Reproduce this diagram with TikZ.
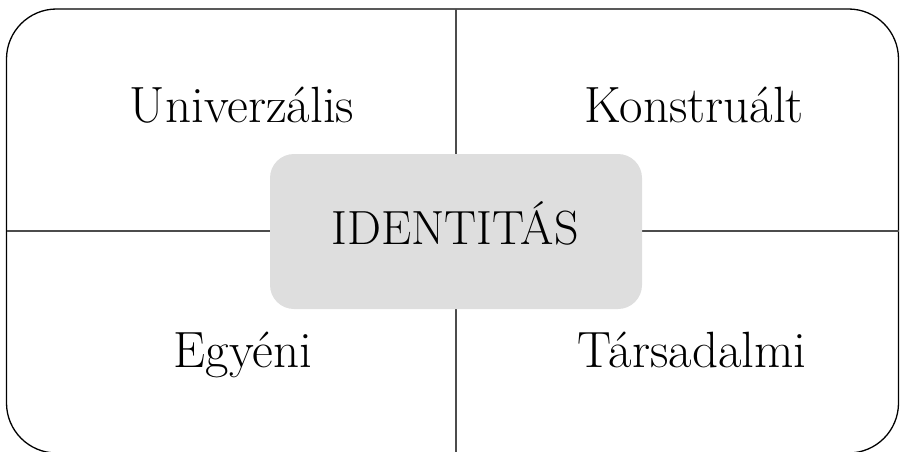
\documentclass[tikz,border=0pt]{standalone}
\begin{document}
\begin{tikzpicture}[x=1pt,y=-1pt,
  outer/.style={draw=black,line width=1.3pt,rounded corners=50pt},
  crossline/.style={draw=black!70,line width=1.3pt},
  core/.style={fill=black!13,rounded corners=24pt,minimum width=372pt,minimum height=155pt,inner sep=0pt},
  lbl/.style={font=\fontsize{51}{56}\selectfont,inner sep=0pt,anchor=base},
  clbl/.style={font=\fontsize{48}{54}\selectfont,inner sep=0pt,anchor=base}]
\useasboundingbox (0,0) rectangle (904,452);
\draw[outer] (6.5,9) rectangle (898.5,453);
\coordinate (top) at (456,9);
\coordinate (bot) at (456,453);
\coordinate (lft) at (6.5,231);
\coordinate (rgt) at (898.5,231);
\draw[crossline] (top) -- (bot);
\draw[crossline] (lft) -- (rgt);
\node[core] (id) at (456,231.5) {};
\node[clbl] (idt) at (455,244) {IDENTITÁS};
\node[lbl] (u) at (242,122) {Univerzális};
\node[lbl] (k) at (694,122) {Konstruált};
\node[lbl] (e) at (243,367) {Egyéni};
\node[lbl] (t) at (692,367) {Társadalmi};
\end{tikzpicture}
\end{document}
